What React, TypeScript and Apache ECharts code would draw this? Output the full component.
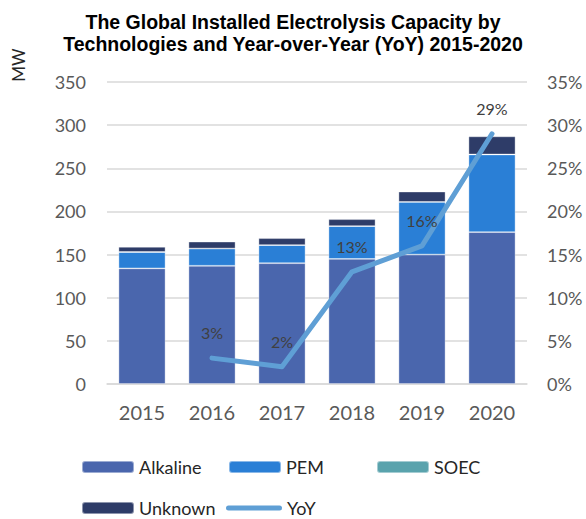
import React, { useEffect, useRef } from "react";
import * as echarts from "echarts";

const years = ["2015", "2016", "2017", "2018", "2019", "2020"];
const alkaline = [134, 137, 140, 145, 150, 176];
const pem = [19, 20, 21, 38, 61, 90];
const soec = [0, 0, 0, 0, 0, 0];
const unknown = [6, 8, 8, 8, 12, 21];
const yoy: (number | null)[] = [null, 3, 2, 13, 16, 29];

const FONT = "Lato, 'Open Sans', sans-serif";

export default function App() {
  const ref = useRef<HTMLDivElement>(null);
  useEffect(() => {
    document.body.style.margin = "0";
    if (!ref.current) return;
    const chart = echarts.init(ref.current, undefined, { renderer: "svg" });
    const bar = (name: string, data: number[], color: string) => ({
      name,
      type: "bar",
      stack: "cap",
      data,
      barWidth: 47,
      itemStyle: { color, borderColor: "rgba(255,255,255,0.45)", borderWidth: 0.8 },
    });
    const legendText = { fontSize: 18, color: "#262626", fontFamily: FONT, lineHeight: 18 };
    const leg = (name: string, left: number, top: number) => ({
      data: [name],
      left,
      top,
      padding: 0,
      itemWidth: 52,
      itemHeight: 12,
      itemGap: 5,
      textStyle: legendText,
      selectedMode: false,
    });
    chart.setOption({
      animation: false,
      title: {
        text: "The Global Installed Electrolysis Capacity by\nTechnologies and Year-over-Year (YoY) 2015-2020",
        left: "center",
        top: 6,
        textStyle: {
          fontSize: 19.5,
          fontWeight: "bold",
          color: "#000",
          fontFamily: "'Liberation Sans', Arial, sans-serif",
          lineHeight: 22,
        },
      },
      graphic: [
        {
          type: "text",
          x: 18,
          y: 65,
          rotation: Math.PI / 2,
          style: {
            text: "MW",
            fontSize: 17,
            fill: "#262626",
            fontFamily: FONT,
            align: "center",
            verticalAlign: "middle",
          },
        },
      ],
      legend: [
        leg("Alkaline", 81, 458),
        leg("PEM", 228, 458),
        leg("SOEC", 376, 458),
        leg("Unknown", 81, 499),
        {
          ...leg("YoY", 226, 499),
          itemWidth: 56,
          data: [{ name: "YoY", icon: "path://M2.5,0 L53.5,0 A2.5,2.5 0 0 1 53.5,5 L2.5,5 A2.5,2.5 0 0 1 2.5,0 Z" }],
        },
      ],
      grid: { left: 107, right: 59, top: 82, bottom: 135 },
      xAxis: {
        type: "category",
        data: years,
        axisTick: { show: false },
        axisLine: { lineStyle: { color: "#d9d9d9", width: 1.5 } },
        axisLabel: { fontSize: 20, color: "#595959", margin: 18, fontFamily: FONT },
      },
      yAxis: [
        {
          type: "value",
          min: 0,
          max: 350,
          interval: 50,
          axisLine: { show: false },
          axisTick: { show: false },
          splitLine: { lineStyle: { color: "#d9d9d9", width: 1.5 } },
          axisLabel: { fontSize: 18, color: "#595959", margin: 21, fontFamily: FONT },
        },
        {
          type: "value",
          min: 0,
          max: 35,
          interval: 5,
          axisLine: { show: false },
          axisTick: { show: false },
          splitLine: { show: false },
          axisLabel: {
            fontSize: 18,
            color: "#595959",
            margin: 20,
            fontFamily: FONT,
            formatter: (v: number) => v + "%",
          },
        },
      ],
      series: [
        bar("Alkaline", alkaline, "#4a66ad"),
        bar("PEM", pem, "#2a7fd6"),
        bar("SOEC", soec, "#5aa3ad"),
        bar("Unknown", unknown, "#2e3c68"),
        {
          name: "YoY",
          type: "line",
          yAxisIndex: 1,
          data: yoy,
          symbol: "circle",
          symbolSize: 1,
          showSymbol: true,
          itemStyle: { color: "#5f9fd5" },
          lineStyle: { color: "#5f9fd5", width: 5, cap: "round", join: "round" },
          label: {
            show: true,
            position: "top",
            distance: 17,
            fontSize: 16,
            color: "#404040",
            fontFamily: FONT,
            formatter: (p: any) => p.value + "%",
          },
        },
      ],
    });
    return () => chart.dispose();
  }, []);
  return <div ref={ref} style={{ width: 586, height: 519 }} />;
}
